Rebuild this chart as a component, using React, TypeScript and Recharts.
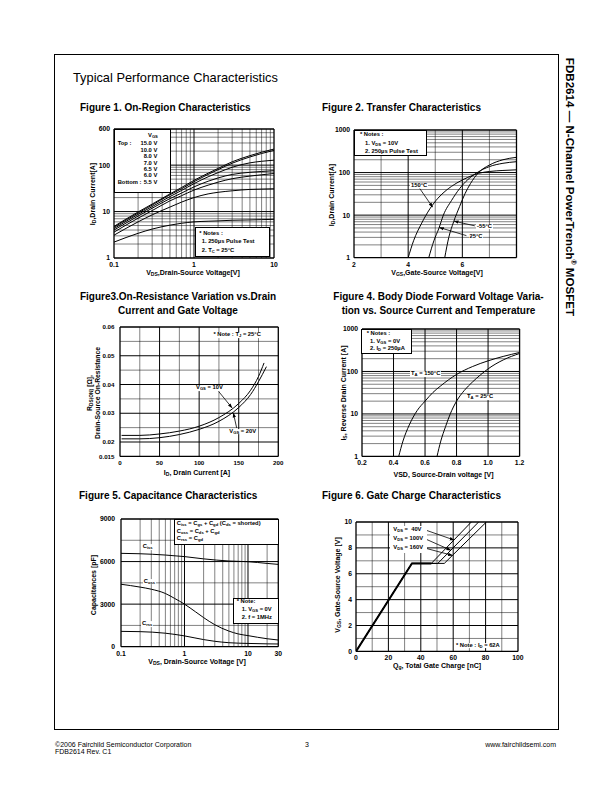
import React from 'react';
import { LineChart, Line, XAxis, YAxis, ReferenceLine } from 'recharts';

const FONT = '"Liberation Sans", Arial, Helvetica, sans-serif';

// Figure 1: On-Region Characteristics (I_D vs V_DS, log-log)
const f1Vds = [0.1, 0.2, 0.3, 0.5, 0.7, 1, 1.5, 2, 3, 5, 7, 10];
const f1Id15 = [4.8, 9.8, 14.5, 24, 33, 47, 67, 85, 118, 160, 190, 222];
const f1Id10 = [4.6, 9.3, 13.8, 23, 31, 44, 63, 80, 110, 150, 178, 208];
const f1Id8 = [4.3, 8.7, 12.8, 21, 28.5, 40, 56, 69, 90, 112, 121, 128];
const f1Id7 = [4.0, 8.0, 11.8, 19, 25, 34, 45, 53, 63, 70, 73, 76];
const f1Id65 = [3.6, 7.2, 10.5, 17, 22, 29, 37, 43, 51, 58, 62, 66];
const f1Id6 = [3.1, 6.0, 8.5, 12.5, 16, 20, 24, 26, 28, 30, 30.5, 31];
const f1Id55 = [2.2, 3.4, 4.2, 5.1, 5.6, 6.0, 6.2, 6.3, 6.5, 6.6, 6.7, 6.8];

// Figure 2: Transfer Characteristics
const f2Vgs150 = [4.0, 4.2, 4.5, 4.8, 5.1, 5.4, 5.8, 6.2, 6.6, 7.0, 7.5, 8.0];
const f2Id150 = [1, 2.5, 6.5, 14, 25, 38, 57, 77, 96, 106, 112, 116];
const f2Vgs25 = [4.76, 4.95, 5.14, 5.3, 5.6, 5.9, 6.2, 6.55, 7.0, 7.5, 8.0];
const f2Id25 = [1, 2.5, 5, 10, 22, 42, 68, 100, 138, 165, 180];
const f2VgsM55 = [5.35, 5.5, 5.68, 5.9, 6.1, 6.3, 6.6, 7.0, 7.5, 8.0];
const f2IdM55 = [1, 3, 7, 16, 32, 55, 100, 150, 200, 228];

// Figure 3: On-Resistance vs Drain Current
const f3Id10 = [2, 25, 50, 75, 100, 125, 150, 165, 175, 182];
const f3R10 = [0.0223, 0.0223, 0.0228, 0.0238, 0.0255, 0.0285, 0.0334, 0.038, 0.0428, 0.0475];
const f3Id20 = [2, 25, 50, 75, 100, 125, 150, 165, 175, 185];
const f3R20 = [0.0211, 0.0211, 0.0215, 0.0226, 0.0244, 0.0272, 0.032, 0.0365, 0.041, 0.0462];

// Figure 4: Body Diode Forward Voltage
const f4Vsd150 = [0.433, 0.46, 0.5, 0.55, 0.6, 0.65, 0.7, 0.75, 0.8, 0.9, 1.0, 1.1, 1.2];
const f4Is150 = [1, 2.3, 5.5, 12, 20, 32, 46, 64, 85, 130, 178, 228, 280];
const f4Vsd25 = [0.676, 0.7, 0.73, 0.76, 0.8, 0.85, 0.9, 0.95, 1.0, 1.1, 1.2];
const f4Is25 = [1, 2.3, 5, 10, 20, 36, 56, 82, 115, 190, 265];

// Figure 5: Capacitance
const f5VdsIss = [0.1, 0.2, 0.5, 1, 2, 5, 10, 20, 30];
const f5Ciss = [6580, 6550, 6460, 6350, 6190, 6040, 5990, 5870, 5800];
const f5VdsOss = [0.1, 0.2, 0.3, 0.5, 0.7, 1, 1.5, 2, 3, 5, 7, 10, 20, 30];
const f5Coss = [4400, 4200, 4050, 3750, 3400, 3000, 2450, 2050, 1550, 1100, 900, 780, 560, 470];
const f5VdsRss = [0.1, 0.2, 0.5, 1, 2, 3, 5, 10, 20, 30];
const f5Crss = [1080, 1060, 950, 760, 500, 380, 280, 230, 200, 190];

// Figure 6: Gate Charge (the first rise and plateau are shared by all three)
const f6QShared = [0, 34.5, 46.5];
const f6VShared = [0, 6.8, 6.8];
const f6Q40 = [0, 34.5, 46.5, 71.2];
const f6V40 = [0, 6.8, 6.8, 10];
const f6Q100 = [0, 34.5, 50.5, 75.7];
const f6V100 = [0, 6.8, 6.8, 10];
const f6Q160 = [0, 34.5, 54.5, 80.5];
const f6V160 = [0, 6.8, 6.8, 10];

type Pt = { x: number; y: number };
const pts = (xs: number[], ys: number[]): Pt[] => xs.map((x, i) => ({ x, y: ys[i] }));

type GridLine = { v: number; major: boolean };
const logLines = (lo: number, hi: number): GridLine[] => {
  const out: GridLine[] = [];
  for (let e = Math.floor(Math.log10(lo)); e <= Math.ceil(Math.log10(hi)); e++) {
    for (let k = 1; k < 10; k++) {
      const v = +(k * Math.pow(10, e)).toPrecision(6);
      if (v > lo * 1.0001 && v < hi * 0.9999) out.push({ v, major: k === 1 });
    }
  }
  return out;
};
const linLines = (lo: number, hi: number, step: number, majorStep: number): GridLine[] => {
  const out: GridLine[] = [];
  const n = Math.round((hi - lo) / step);
  for (let i = 1; i < n; i++) {
    const v = +(lo + i * step).toFixed(6);
    const r = v / majorStep;
    out.push({ v, major: Math.abs(r - Math.round(r)) < 1e-6 });
  }
  return out;
};

interface Series { data: Pt[]; curve?: 'monotone' | 'linear'; width?: number }
interface Arrow { from: Pt; to: Pt }
interface PlotProps {
  left: number; top: number; w: number; h: number;
  xDomain: [number, number]; xLog?: boolean; xTicks: number[]; xLines: GridLine[]; xFmt?: (v: number) => string;
  yDomain: [number, number]; yLog?: boolean; yTicks: number[]; yLines: GridLine[]; yFmt?: (v: number) => string;
  yMargin?: number;
  tickSize?: number;
  series: Series[];
  arrows?: Arrow[];
}

const PL = 40, PT = 6, PR = 6, PB = 16;

function Plot(p: PlotProps) {
  const tick = { fontSize: p.tickSize ?? 6.8, fontWeight: 700, fill: '#000', fontFamily: FONT };
  const [x0, x1] = p.xDomain;
  const [y0, y1] = p.yDomain;
  return (
    <div style={{ position: 'absolute', left: p.left - PL, top: p.top - PT }}>
      <LineChart width={p.w + PL + PR} height={p.h + PT + PB} margin={{ top: PT, right: PR, bottom: 0, left: 0 }}>
        <XAxis
          type="number" dataKey="x" scale={p.xLog ? 'log' : 'linear'} domain={p.xDomain} allowDataOverflow
          ticks={p.xTicks} interval={0} tickFormatter={p.xFmt} axisLine={false} tickLine={false}
          tickSize={0} tickMargin={4} height={PB} tick={tick}
        />
        <YAxis
          type="number" dataKey="y" scale={p.yLog ? 'log' : 'linear'} domain={p.yDomain} allowDataOverflow
          ticks={p.yTicks} interval={0} tickFormatter={p.yFmt} axisLine={false} tickLine={false}
          tickSize={0} tickMargin={p.yMargin ?? 4} width={PL} tick={tick}
        />
        {p.xLines.map(g => (
          <ReferenceLine key={'gx' + g.v} x={g.v} stroke="#000" strokeWidth={g.major ? 1 : 0.5} />
        ))}
        {p.yLines.map(g => (
          <ReferenceLine key={'gy' + g.v} y={g.v} stroke="#000" strokeWidth={g.major ? 1 : 0.5} />
        ))}
        <ReferenceLine x={x0} stroke="#000" strokeWidth={1.3} ifOverflow="visible" />
        <ReferenceLine x={x1} stroke="#000" strokeWidth={1.3} ifOverflow="visible" />
        <ReferenceLine y={y0} stroke="#000" strokeWidth={1.3} ifOverflow="visible" />
        <ReferenceLine y={y1} stroke="#000" strokeWidth={1.3} ifOverflow="visible" />
        {p.series.map((s, i) => (
          <Line
            key={'s' + i} data={s.data} dataKey="y" type={s.curve ?? 'monotone'}
            stroke="#000" strokeWidth={s.width ?? 1} dot={false} isAnimationActive={false}
          />
        ))}
        {(p.arrows ?? []).map((a, i) => (
          <ReferenceLine
            key={'a' + i} segment={[a.from, a.to]} stroke="#000" strokeWidth={0.8}
            markerEnd="url(#arrowHead)" ifOverflow="visible"
          />
        ))}
      </LineChart>
    </div>
  );
}

type Align = 'left' | 'center' | 'right';
function Txt({ x, y, children, size = 5.8, bold = true, align = 'left', bg = false, rotate = 0 }: {
  x: number; y: number; children: React.ReactNode; size?: number; bold?: boolean; align?: Align; bg?: boolean; rotate?: number;
}) {
  const tx = align === 'left' ? '0' : align === 'center' ? '-50%' : '-100%';
  return (
    <div
      style={{
        position: 'absolute', left: x, top: y,
        transform: `translate(${tx},-50%)` + (rotate ? ` rotate(${rotate}deg)` : ''),
        fontSize: size, fontWeight: bold ? 700 : 400, whiteSpace: 'nowrap', lineHeight: 1,
        background: bg ? '#fff' : undefined, fontFamily: FONT, color: '#000',
        padding: bg ? '0 1px' : undefined,
      }}
    >
      {children}
    </div>
  );
}

const Sub = ({ children }: { children: React.ReactNode }) => (
  <span style={{ fontSize: '0.72em', verticalAlign: '-0.28em', lineHeight: 0 }}>{children}</span>
);

function Box({ x, y, w, h, border = true }: { x: number; y: number; w: number; h: number; border?: boolean }) {
  return (
    <div
      style={{
        position: 'absolute', left: x, top: y, width: w, height: h, background: '#fff',
        boxSizing: 'border-box', border: border ? '1px solid #000' : undefined,
      }}
    />
  );
}

const fmtFixed1 = (v: number) => v.toFixed(1);

export default function App() {
  return (
    <div style={{ position: 'absolute', left: 0, top: 0, width: 612, height: 792, background: '#fff', fontFamily: FONT, overflow: 'hidden' }}>
      <svg width={0} height={0} style={{ position: 'absolute' }}>
        <defs>
          <marker id="arrowHead" viewBox="0 0 10 10" refX="9" refY="5" markerWidth="6" markerHeight="6" orient="auto">
            <path d="M0,1.5 L10,5 L0,8.5 z" fill="#000" />
          </marker>
        </defs>
      </svg>

      {/* page frame */}
      <div style={{ position: 'absolute', left: 54, top: 54, width: 505, height: 676, border: '1px solid #000', boxSizing: 'border-box' }} />

      <Txt x={73} y={78} size={12.8} bold={false}>Typical Performance Characteristics</Txt>

      <Txt x={570} y={187} size={11.6} align="center" rotate={90}>
        FDB2614 — N-Channel PowerTrench<sup style={{ fontSize: '0.6em' }}>®</sup> MOSFET
      </Txt>

      {/* ---------- Figure 1 ---------- */}
      <Txt x={80} y={108} size={10}>Figure 1. On-Region Characteristics</Txt>
      <Plot
        left={114} top={129} w={160} h={129}
        xDomain={[0.1, 10]} xLog xTicks={[0.1, 1, 10]} xLines={logLines(0.1, 10)}
        yDomain={[1, 600]} yLog yTicks={[1, 10, 100, 600]} yLines={logLines(1, 600)}
        series={[
          { data: pts(f1Vds, f1Id15) }, { data: pts(f1Vds, f1Id10) }, { data: pts(f1Vds, f1Id8) },
          { data: pts(f1Vds, f1Id7) }, { data: pts(f1Vds, f1Id65) }, { data: pts(f1Vds, f1Id6) },
          { data: pts(f1Vds, f1Id55) },
        ]}
      />
      <Box x={113.5} y={128.5} w={57} h={64} />
      <Txt x={148} y={136}>V<Sub>GS</Sub></Txt>
      <Txt x={117.7} y={144}>Top :</Txt>
      <Txt x={157.3} y={144} align="right">15.0 V</Txt>
      <Txt x={157.3} y={150.5} align="right">10.0 V</Txt>
      <Txt x={157.3} y={157} align="right">8.0 V</Txt>
      <Txt x={157.3} y={163.5} align="right">7.0 V</Txt>
      <Txt x={157.3} y={170} align="right">6.5 V</Txt>
      <Txt x={157.3} y={176.3} align="right">6.0 V</Txt>
      <Txt x={117.7} y={182.7}>Bottom :</Txt>
      <Txt x={157.3} y={182.7} align="right">5.5 V</Txt>
      <Box x={195} y={227} w={75} h={30} />
      <Txt x={199.3} y={234}>* Notes :</Txt>
      <Txt x={201.7} y={242.3}>1. 250µs Pulse Test</Txt>
      <Txt x={201.7} y={250.7}>2. T<Sub>C</Sub> = 25°C</Txt>
      <Txt x={193} y={271.5} size={7} align="center">V<Sub>DS</Sub>,Drain-Source Voltage[V]</Txt>
      <Txt x={92} y={194} size={7} align="center" rotate={-90}>I<Sub>D</Sub>,Drain Current[A]</Txt>

      {/* ---------- Figure 2 ---------- */}
      <Txt x={322} y={108} size={10}>Figure 2. Transfer Characteristics</Txt>
      <Plot
        left={354.3} top={130} w={162.5} h={127.7}
        xDomain={[2, 8]} xTicks={[2, 4, 6]} xLines={linLines(2, 8, 1, 2)}
        yDomain={[1, 1000]} yLog yTicks={[1, 10, 100, 1000]} yLines={logLines(1, 1000)}
        series={[
          { data: pts(f2Vgs150, f2Id150) }, { data: pts(f2Vgs25, f2Id25) }, { data: pts(f2VgsM55, f2IdM55) },
        ]}
        arrows={[
          { from: { x: 4.43, y: 42 }, to: { x: 4.9, y: 15.5 } },
          { from: { x: 6.46, y: 5.6 }, to: { x: 5.7, y: 7.2 } },
          { from: { x: 6.15, y: 3.3 }, to: { x: 5.16, y: 5.1 } },
        ]}
      />
      <Box x={353.8} y={129.5} w={73.5} h={26} />
      <Txt x={360} y={135}>* Notes :</Txt>
      <Txt x={365} y={143.5}>1. V<Sub>DS</Sub> = 10V</Txt>
      <Txt x={365} y={152}>2. 250µs Pulse Test</Txt>
      <Txt x={410} y={185.7} bg>150°C</Txt>
      <Txt x={476} y={226.7} bg>-55°C</Txt>
      <Txt x={468.5} y={237.3} bg>25°C</Txt>
      <Txt x={437} y={271.5} size={7} align="center">V<Sub>GS</Sub>,Gate-Source Voltage[V]</Txt>
      <Txt x={331} y={195} size={7} align="center" rotate={-90}>I<Sub>D</Sub>,Drain Current[A]</Txt>

      {/* ---------- Figure 3 ---------- */}
      <Txt x={178} y={297} size={10} align="center">Figure3.On-Resistance Variation vs.Drain</Txt>
      <Txt x={178} y={311} size={10} align="center">Current and Gate Voltage</Txt>
      <Plot
        left={120} top={327.3} w={158.3} h={129.4}
        xDomain={[0, 200]} xTicks={[0, 50, 100, 150, 200]} xLines={linLines(0, 200, 25, 50)}
        yDomain={[0.015, 0.06]} yTicks={[0.015, 0.02, 0.03, 0.04, 0.05, 0.06]} yLines={linLines(0.015, 0.06, 0.005, 0.01)}
        yMargin={5.5} tickSize={6.2}
        series={[{ data: pts(f3Id10, f3R10) }, { data: pts(f3Id20, f3R20) }]}
        arrows={[
          { from: { x: 124.6, y: 0.0376 }, to: { x: 141.5, y: 0.0319 } },
          { from: { x: 147.4, y: 0.0249 }, to: { x: 143.3, y: 0.0300 } },
        ]}
      />
      <Txt x={212.5} y={335} bg>* Note : T<Sub>J</Sub> = 25°C</Txt>
      <Txt x={195} y={388.3} bg>V<Sub>GS</Sub> = 10V</Txt>
      <Txt x={228.3} y={431.7} bg>V<Sub>GS</Sub> = 20V</Txt>
      <Txt x={197} y={471.5} size={7} align="center">I<Sub>D</Sub>, Drain Current [A]</Txt>
      <Txt x={89.5} y={393} size={6.8} align="center" rotate={-90}>R<Sub>DS(ON)</Sub> [Ω],</Txt>
      <Txt x={97.5} y={393} size={6.8} align="center" rotate={-90}>Drain-Source On-Resistance</Txt>

      {/* ---------- Figure 4 ---------- */}
      <Txt x={438.5} y={297} size={10} align="center">Figure 4. Body Diode Forward Voltage Varia-</Txt>
      <Txt x={438.5} y={311} size={10} align="center">tion vs. Source Current and Temperature</Txt>
      <Plot
        left={361.7} top={329.3} w={157.6} h={127.4}
        xDomain={[0.2, 1.2]} xTicks={[0.2, 0.4, 0.6, 0.8, 1.0, 1.2]} xLines={linLines(0.2, 1.2, 0.2, 0.2)} xFmt={fmtFixed1}
        yDomain={[1, 1000]} yLog yTicks={[1, 10, 100, 1000]} yLines={logLines(1, 1000)}
        series={[{ data: pts(f4Vsd150, f4Is150) }, { data: pts(f4Vsd25, f4Is25) }]}
      />
      <Box x={361.2} y={328.8} w={51} h={25} />
      <Txt x={366.7} y={334.3}>* Notes :</Txt>
      <Txt x={370} y={341.7}>1. V<Sub>GS</Sub> = 0V</Txt>
      <Txt x={370} y={349}>2. I<Sub>D</Sub> = 250µA</Txt>
      <Txt x={410} y={374.3} bg>T<Sub>A</Sub> = 150°C</Txt>
      <Txt x={466} y={397.3} bg>T<Sub>A</Sub> = 25°C</Txt>
      <Txt x={443.5} y={474} size={7} align="center">VSD, Source-Drain voltage [V]</Txt>
      <Txt x={343.3} y={393} size={7} align="center" rotate={-90}>I<Sub>S</Sub>, Reverse Drain Current [A]</Txt>

      {/* ---------- Figure 5 ---------- */}
      <Txt x={79} y={496} size={10}>Figure 5. Capacitance Characteristics</Txt>
      <Plot
        left={121} top={519} w={157.3} h={127.7}
        xDomain={[0.1, 30]} xLog xTicks={[0.1, 1, 10, 30]} xLines={logLines(0.1, 30)}
        yDomain={[0, 9000]} yTicks={[0, 3000, 6000, 9000]} yLines={linLines(0, 9000, 1500, 3000)}
        yMargin={6}
        series={[
          { data: pts(f5VdsIss, f5Ciss) }, { data: pts(f5VdsOss, f5Coss) }, { data: pts(f5VdsRss, f5Crss) },
        ]}
      />
      <Box x={174} y={518.5} w={104.8} h={26} />
      <Txt x={176.7} y={523.5}>C<Sub>iss</Sub> = C<Sub>gs</Sub> + C<Sub>gd</Sub> (C<Sub>ds</Sub> = shorted)</Txt>
      <Txt x={176.7} y={531.5}>C<Sub>oss</Sub> = C<Sub>ds</Sub> + C<Sub>gd</Sub></Txt>
      <Txt x={176.7} y={539}>C<Sub>rss</Sub> = C<Sub>gd</Sub></Txt>
      <Box x={233} y={598} w={45.8} h={26} />
      <Txt x={236.7} y={602.3}>* Note:</Txt>
      <Txt x={241.7} y={610}>1. V<Sub>GS</Sub> = 0V</Txt>
      <Txt x={241.7} y={618.3}>2. f = 1MHz</Txt>
      <Txt x={141.7} y={547.3} bg>C<Sub>iss</Sub></Txt>
      <Txt x={142.7} y={581.7} bg>C<Sub>oss</Sub></Txt>
      <Txt x={141} y={624} bg>C<Sub>rss</Sub></Txt>
      <Txt x={197} y={660.5} size={7} align="center">V<Sub>DS</Sub>, Drain-Source Voltage [V]</Txt>
      <Txt x={93.3} y={585} size={7} align="center" rotate={-90}>Capacitances [pF]</Txt>

      {/* ---------- Figure 6 ---------- */}
      <Txt x={322} y={496} size={10}>Figure 6. Gate Charge Characteristics</Txt>
      <Plot
        left={355.7} top={522.3} w={162} h={129.4}
        xDomain={[0, 100]} xTicks={[0, 20, 40, 60, 80, 100]} xLines={linLines(0, 100, 10, 20)}
        yDomain={[0, 10]} yTicks={[0, 2, 4, 6, 8, 10]} yLines={linLines(0, 10, 1, 2)}
        series={[
          { data: pts(f6QShared, f6VShared), curve: 'linear', width: 2 },
          { data: pts(f6Q40, f6V40), curve: 'linear' },
          { data: pts(f6Q100, f6V100), curve: 'linear' },
          { data: pts(f6Q160, f6V160), curve: 'linear' },
        ]}
        arrows={[
          { from: { x: 43.6, y: 9.35 }, to: { x: 60.5, y: 8.61 } },
          { from: { x: 43.6, y: 8.65 }, to: { x: 58.5, y: 7.82 } },
          { from: { x: 43.6, y: 7.95 }, to: { x: 59.5, y: 7.42 } },
        ]}
      />
      <Box x={390} y={525.5} w={36.5} h={27} border={false} />
      <Txt x={393.3} y={530}>V<Sub>DS</Sub> = &nbsp;40V</Txt>
      <Txt x={393.3} y={539.3}>V<Sub>DS</Sub> = 100V</Txt>
      <Txt x={393.3} y={548.3}>V<Sub>DS</Sub> = 160V</Txt>
      <Txt x={455} y={645.7} bg>* Note : I<Sub>D</Sub> = 62A</Txt>
      <Txt x={437} y={665} size={7} align="center">Q<Sub>g</Sub>, Total Gate Charge [nC]</Txt>
      <Txt x={336.7} y={585} size={7} align="center" rotate={-90}>V<Sub>GS</Sub>, Gate-Source Voltage [V]</Txt>

      {/* ---------- footer ---------- */}
      <Txt x={55} y={743.5} size={7} bold={false}>©2006 Fairchild Semiconductor Corporation</Txt>
      <Txt x={55} y={751} size={7} bold={false}>FDB2614 Rev. C1</Txt>
      <Txt x={307} y={743.5} size={7} bold={false} align="center">3</Txt>
      <Txt x={556} y={743.5} size={7} bold={false} align="right">www.fairchildsemi.com</Txt>
    </div>
  );
}
